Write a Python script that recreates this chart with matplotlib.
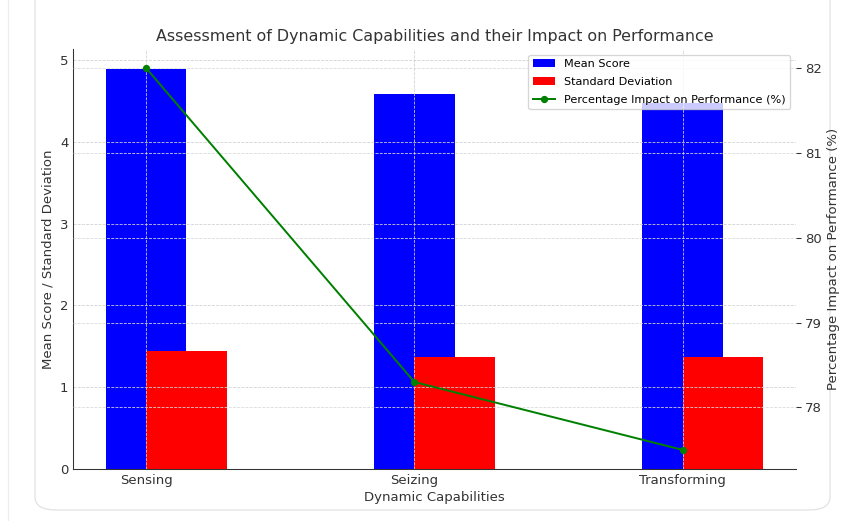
import matplotlib
matplotlib.use("Agg")
import matplotlib.pyplot as plt
import numpy as np
from matplotlib.patches import FancyBboxPatch
from matplotlib.lines import Line2D

# Data
capabilities = ["Sensing", "Seizing", "Transforming"]
mean_scores = [4.89, 4.58, 4.48]
std_devs = [1.44, 1.37, 1.37]
impact_pct = [82.0, 78.3, 77.5]

DPI = 95
W, H = 851, 521
fig = plt.figure(figsize=(W / DPI, H / DPI), dpi=DPI)
fig.patch.set_facecolor("white")

# Card frame around the chart
card = FancyBboxPatch((35 / W, 11 / H), 795 / W, 530 / H,
                      boxstyle="round,pad=0,rounding_size=0.025",
                      transform=fig.transFigure, facecolor="none",
                      edgecolor="#e3e3e3", linewidth=1.0, zorder=-5)
fig.patches.append(card)
fig.add_artist(Line2D([8 / W, 8 / W], [0, 1], transform=fig.transFigure,
                      color="#ededed", linewidth=1.0))

ax = fig.add_axes([73 / W, 52 / H, 723 / W, 420 / H])
x = np.arange(len(capabilities))
width = 0.3

b1 = ax.bar(x, mean_scores, width, color="blue", label="Mean Score")
b2 = ax.bar(x + width / 2, std_devs, width, color="red", label="Standard Deviation")

ax.set_xticks(x)
ax.set_xticklabels(capabilities, fontsize=10)
ax.set_xlabel("Dynamic Capabilities", fontsize=10, color="#333333", labelpad=3)
ax.set_ylabel("Mean Score / Standard Deviation", fontsize=10, color="#333333")
ax.set_title("Assessment of Dynamic Capabilities and their Impact on Performance",
             fontsize=12, color="#333333")
ax.grid(True, linestyle="--", linewidth=0.6, color="#d0d0d0")
ax.tick_params(labelsize=10, colors="#333333", length=0)
for s in ("top", "right"):
    ax.spines[s].set_visible(False)
ax.spines["left"].set_color("#333333")
ax.spines["bottom"].set_color("#333333")

ax2 = ax.twinx()
ln, = ax2.plot(x, impact_pct, color="green", marker="o", markersize=4.5,
               linewidth=1.5, label="Percentage Impact on Performance (%)")
ax2.set_ylabel("Percentage Impact on Performance (%)", fontsize=10, color="#333333")
ax2.grid(True, linestyle="--", linewidth=0.6, color="#d8d8d8")
ax2.tick_params(labelsize=10, colors="#333333", length=3.5)
for s in ("top", "right", "left", "bottom"):
    ax2.spines[s].set_visible(False)

ax2.legend([b1, b2, ln],
           ["Mean Score", "Standard Deviation", "Percentage Impact on Performance (%)"],
           loc="upper right", fontsize=8.5, labelspacing=0.7)

fig.savefig("out.png", dpi=DPI)
